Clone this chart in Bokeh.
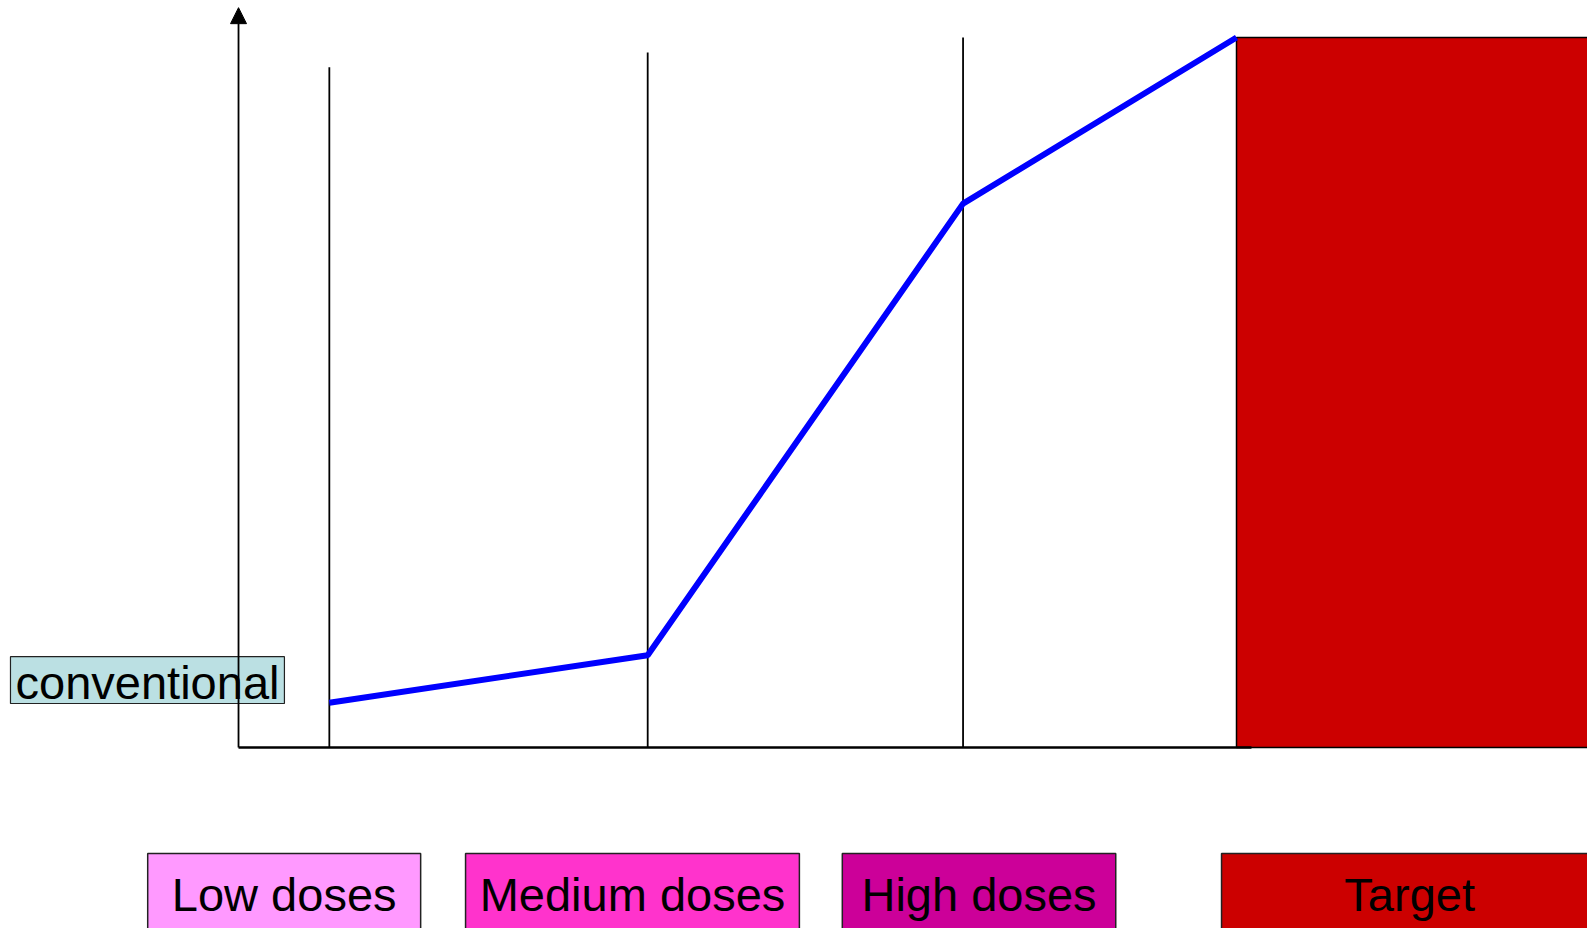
from bokeh.plotting import figure
from bokeh.models import Range1d, Arrow, NormalHead, ColumnDataSource
from bokeh.core.properties import value
from bokeh.embed import file_html
from bokeh.resources import INLINE

# Dose categories shown as coloured boxes under the axis
dose_labels = ["Low doses", "Medium doses", "High doses", "Target"]
box_left = [-9.1, 22.75, 60.5, 98.5]
box_right = [18.25, 56.2, 87.9, 136.2]
box_colors = ["#FF99FF", "#FF33CC", "#CC0099", "#CC0000"]

# Response curve across dose levels
dose_x = [9.1, 41.0, 72.6, 100.0]
response = [6.3, 13.0, 76.6, 100.0]

# Vertical markers at each dose level
marker_x = [9.1, 41.0, 72.6]
marker_top = [95.8, 97.9, 100.0]

# Target zone
target_left, target_right, target_top = 100.0, 140.0, 100.0

FONT = "Liberation Sans"

p = figure(width=1587, height=928, output_backend="svg", toolbar_location=None,
           x_range=Range1d(-23.85, 135.17), y_range=Range1d(-25.49, 105.21),
           min_border=0, background_fill_color="white")
p.axis.visible = False
p.grid.visible = False
p.outline_line_color = None

# target zone block
p.quad(left=[target_left], right=[target_right], bottom=[0], top=[target_top],
       fill_color="#CC0000", line_color="black", line_width=1.5)

# x axis line
p.line(x=[0, 101.5], y=[0, 0], line_color="black", line_width=2.5)

# y axis with arrow head
p.add_layout(Arrow(end=NormalHead(size=16, fill_color="black", line_color="black"),
                   x_start=0, y_start=0, x_end=0, y_end=104.2,
                   line_color="black", line_width=1.8))

# dose level markers
p.segment(x0=marker_x, y0=[0] * len(marker_x), x1=marker_x, y1=marker_top,
          line_color="black", line_width=1.8)

# response curve
p.line(x=dose_x, y=response, line_color="#0000FF", line_width=6)

# "conventional" label on the y axis
p.quad(left=[-22.85], right=[4.6], bottom=[6.2], top=[12.8],
       fill_color="#BBE0E3", line_color="#222222", line_width=1.2)
p.text(x=[-9.12], y=[9.1], text=["conventional"], text_align="center",
       text_baseline="alphabetic", text_font=value(FONT), text_font_size="47px",
       text_color="black")

# dose category boxes
src = ColumnDataSource(dict(
    left=box_left, right=box_right, color=box_colors, label=dose_labels,
    cx=[(a + b) / 2 for a, b in zip(box_left, box_right)],
))
p.quad(left="left", right="right", bottom=-40, top=-14.93, fill_color="color",
       line_color="#222222", line_width=1.5, source=src)
p.text(x="cx", y=-20.7, text="label", text_align="center", text_baseline="alphabetic",
       text_font=value(FONT), text_font_size="47px", text_color="black", source=src)

open("out.html", "w").write(file_html(p, INLINE))
